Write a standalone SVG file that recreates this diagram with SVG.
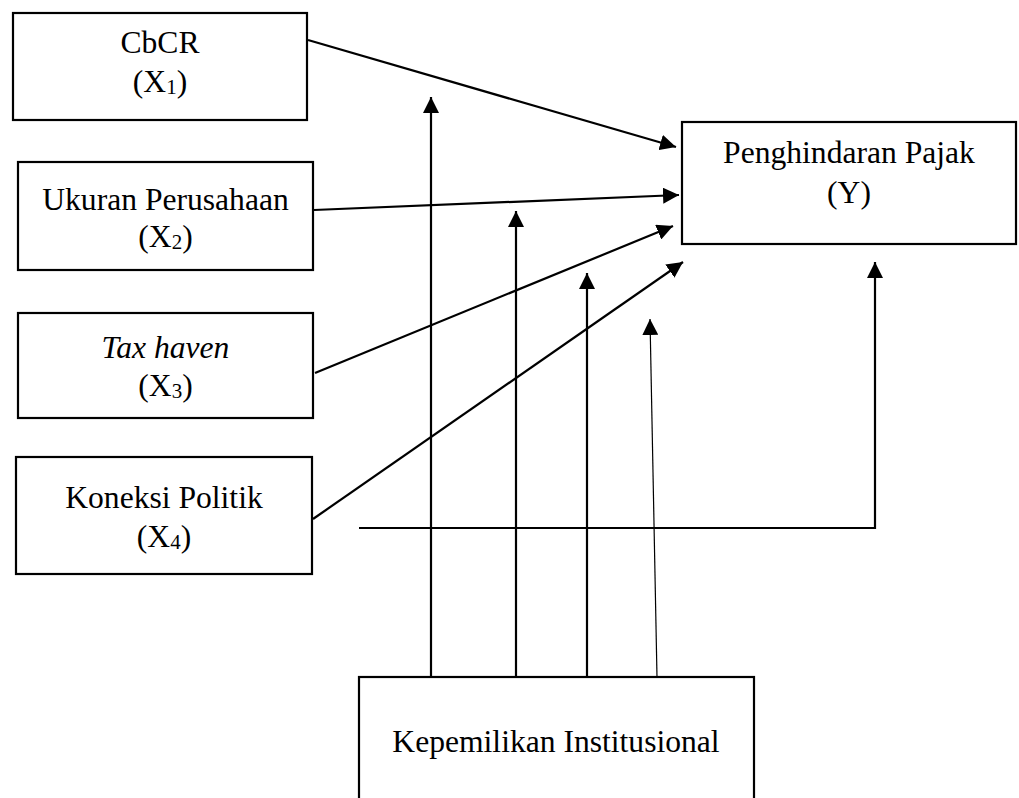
<svg xmlns="http://www.w3.org/2000/svg" width="1019" height="798" viewBox="0 0 1019 798">
<style>
.box{fill:#fff;stroke:#000;stroke-width:2.2}
.t{font-family:"Liberation Serif","Times New Roman",serif;font-size:31.6px;fill:#000;text-anchor:middle}
.sub{font-size:21px}
.c{fill:none;stroke:#000;stroke-width:2.2}
.thin{stroke-width:1.2}
</style>
<defs>
<marker id="ah" markerUnits="userSpaceOnUse" markerWidth="16" markerHeight="16" viewBox="0 0 16 16" refX="16" refY="8" orient="auto">
<path d="M0,0 L16,8 L0,16 z" fill="#000"/>
</marker>
</defs>
<rect width="1019" height="798" fill="#fff"/>
<g id="connectors">
<line class="c" x1="308" y1="40" x2="676" y2="147" marker-end="url(#ah)"/>
<line class="c" x1="314" y1="210" x2="679" y2="195" marker-end="url(#ah)"/>
<line class="c" x1="315" y1="373" x2="673" y2="226" marker-end="url(#ah)"/>
<line class="c" x1="313" y1="519" x2="683" y2="262" marker-end="url(#ah)"/>
<polyline class="c" points="359,528 875,528 875,262" marker-end="url(#ah)"/>
<line class="c" x1="431" y1="677" x2="431" y2="97" marker-end="url(#ah)"/>
<line class="c" x1="516" y1="677" x2="516" y2="211" marker-end="url(#ah)"/>
<line class="c" x1="587" y1="677" x2="587" y2="273" marker-end="url(#ah)"/>
<line class="c thin" x1="657" y1="677" x2="650" y2="319" marker-end="url(#ah)"/>
</g>
<g id="x1">
<rect class="box" x="13" y="13" width="294" height="107"/>
<text class="t" x="160" y="53">CbCR</text>
<text class="t" x="160" y="91.5">(X<tspan class="sub" dy="2">1</tspan><tspan dy="-2">)</tspan></text>
</g>
<g id="x2">
<rect class="box" x="18" y="162" width="295" height="108"/>
<text class="t" x="165.5" y="210">Ukuran Perusahaan</text>
<text class="t" x="165.5" y="247">(X<tspan class="sub" dy="2">2</tspan><tspan dy="-2">)</tspan></text>
</g>
<g id="x3">
<rect class="box" x="18" y="313" width="295" height="105"/>
<text class="t" x="165.5" y="358" font-style="italic">Tax haven</text>
<text class="t" x="165.5" y="396">(X<tspan class="sub" dy="2">3</tspan><tspan dy="-2">)</tspan></text>
</g>
<g id="x4">
<rect class="box" x="16" y="457" width="296" height="117"/>
<text class="t" x="164" y="508">Koneksi Politik</text>
<text class="t" x="164" y="547">(X<tspan class="sub" dy="2">4</tspan><tspan dy="-2">)</tspan></text>
</g>
<g id="y">
<rect class="box" x="682" y="122" width="334" height="122"/>
<text class="t" x="849" y="163">Penghindaran Pajak</text>
<text class="t" x="849" y="203">(Y)</text>
</g>
<g id="z">
<rect class="box" x="359" y="677" width="395" height="140"/>
<text class="t" x="556" y="751.5">Kepemilikan Institusional</text>
</g>
</svg>
